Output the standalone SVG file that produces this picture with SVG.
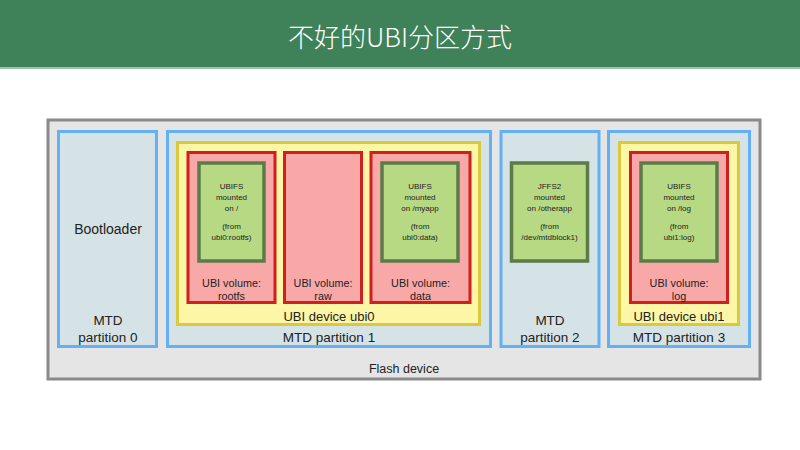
<svg xmlns="http://www.w3.org/2000/svg" width="800" height="450" viewBox="0 0 800 450">
<style>
text{font-family:"Liberation Sans","DejaVu Sans",sans-serif;fill:#222;text-anchor:middle}
.flash{fill:#e5e5e5;stroke:#8a8a8a;stroke-width:3}
.mtd{fill:#d6e3e6;stroke:#64b0f4;stroke-width:3}
.dev{fill:#fdf6a6;stroke:#d9c93e;stroke-width:3}
.vol{fill:#f9a8a8;stroke:#d01f1f;stroke-width:3}
.fs{fill:#b8d983;stroke:#5b7b49;stroke-width:3.5}
.t14{font-size:14px}
.t13{font-size:13.5px}
.tdev{font-size:13px}
.tfl{font-size:12.5px}
.t11{font-size:10.8px}
.t8{font-size:8px}
.title{font-family:"Noto Sans CJK SC","Noto Sans CJK JP",sans-serif;font-size:26px;fill:#fff;font-weight:300}
</style>
<rect x="0" y="0" width="800" height="450" fill="#ffffff"/>
<rect x="0" y="0" width="800" height="67" fill="#3f8158"/>
<rect x="0" y="67" width="800" height="2" fill="#9cc4a8"/>
<text class="title" x="400" y="47">不好的UBI分区方式</text>

<g id="flash-device">
<rect class="flash" x="48" y="120" width="712" height="259"/>
<text class="tfl" x="404" y="373">Flash device</text>
</g>

<g id="mtd0">
<rect class="mtd" x="58.5" y="131.5" width="98" height="215"/>
<text class="t14" x="108" y="234">Bootloader</text>
<text class="t13" x="108" y="324.5">MTD</text>
<text class="t13" x="108" y="342">partition 0</text>
</g>

<g id="mtd1">
<rect class="mtd" x="167.5" y="131.5" width="323" height="215"/>
<text class="t13" x="329" y="342">MTD partition 1</text>
</g>

<g id="ubi0">
<rect class="dev" x="177.5" y="142.5" width="302" height="182"/>
<text class="tdev" x="329" y="320.5">UBI device ubi0</text>
</g>

<g id="vol-rootfs">
<rect class="vol" x="188" y="152.5" width="87" height="150"/>
<text class="t11" x="231.5" y="287">UBI volume:</text>
<text class="t11" x="231.5" y="299.5">rootfs</text>
</g>
<g id="fs-rootfs">
<rect class="fs" x="199" y="163" width="65" height="98"/>
<text class="t8" x="231.5" y="189">UBIFS</text>
<text class="t8" x="231.5" y="200">mounted</text>
<text class="t8" x="231.5" y="211">on /</text>
<text class="t8" x="231.5" y="228.5">(from</text>
<text class="t8" x="231.5" y="240">ubi0:rootfs)</text>
</g>

<g id="vol-raw">
<rect class="vol" x="284.5" y="152.5" width="77" height="150"/>
<text class="t11" x="323" y="287">UBI volume:</text>
<text class="t11" x="323" y="299.5">raw</text>
</g>

<g id="vol-data">
<rect class="vol" x="371" y="152.5" width="99" height="150"/>
<text class="t11" x="420.5" y="287">UBI volume:</text>
<text class="t11" x="420.5" y="299.5">data</text>
</g>
<g id="fs-data">
<rect class="fs" x="382" y="163" width="76" height="98"/>
<text class="t8" x="420" y="189">UBIFS</text>
<text class="t8" x="420" y="200">mounted</text>
<text class="t8" x="420" y="211">on /myapp</text>
<text class="t8" x="420" y="228.5">(from</text>
<text class="t8" x="420" y="240">ubi0:data)</text>
</g>

<g id="mtd2">
<rect class="mtd" x="501" y="131.5" width="98" height="215"/>
<text class="t13" x="550" y="324.5">MTD</text>
<text class="t13" x="550" y="342">partition 2</text>
</g>
<g id="fs-jffs2">
<rect class="fs" x="511.5" y="163" width="76" height="98"/>
<text class="t8" x="549.5" y="189">JFFS2</text>
<text class="t8" x="549.5" y="200">mounted</text>
<text class="t8" x="549.5" y="211">on /otherapp</text>
<text class="t8" x="549.5" y="228.5">(from</text>
<text class="t8" x="549.5" y="240">/dev/mtdblock1)</text>
</g>

<g id="mtd3">
<rect class="mtd" x="608.5" y="131.5" width="141" height="215"/>
<text class="t13" x="679" y="342">MTD partition 3</text>
</g>
<g id="ubi1">
<rect class="dev" x="619.5" y="142.5" width="119" height="182"/>
<text class="tdev" x="679" y="320.5">UBI device ubi1</text>
</g>
<g id="vol-log">
<rect class="vol" x="630.5" y="152.5" width="97" height="150"/>
<text class="t11" x="679" y="287">UBI volume:</text>
<text class="t11" x="679" y="299.5">log</text>
</g>
<g id="fs-log">
<rect class="fs" x="641" y="163" width="76" height="98"/>
<text class="t8" x="679" y="189">UBIFS</text>
<text class="t8" x="679" y="200">mounted</text>
<text class="t8" x="679" y="211">on /log</text>
<text class="t8" x="679" y="228.5">(from</text>
<text class="t8" x="679" y="240">ubi1:log)</text>
</g>

<g id="connectors"></g>
</svg>
